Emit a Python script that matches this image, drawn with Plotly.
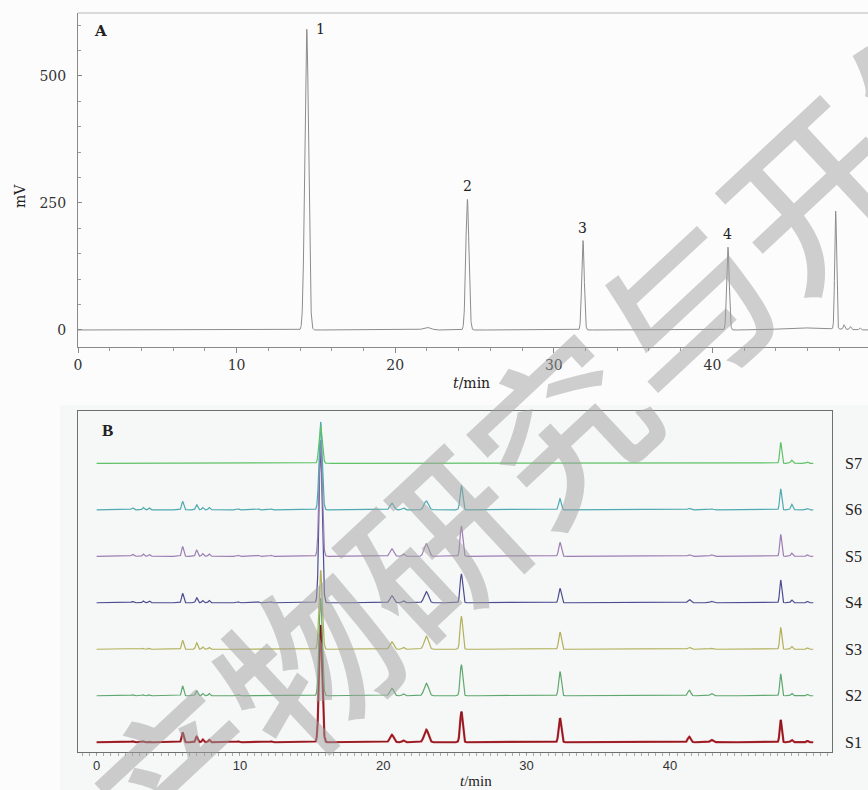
import numpy as np
import plotly.graph_objects as go

W, H = 868, 790

# ---------------- Panel A: reference standard chromatogram ----------------
a_peak_times = [14.42, 22.0, 24.55, 31.84, 40.98, 46.0, 47.77, 48.3, 48.7, 49.3]
a_peak_heights = [592, 5, 257, 176, 163, 4, 232, 9, 6, 4]
a_peak_sigmas = [0.12, 0.25, 0.10, 0.08, 0.08, 1.5, 0.06, 0.05, 0.05, 0.05]
a_labels = ["1", "2", "3", "4"]
a_label_peaks = [0, 2, 3, 4]
a_xticks = [0, 10, 20, 30, 40]
a_yticks = [0, 250, 500]

# ---------------- Panel B: fingerprints S1..S7 ----------------
samples = ["S1", "S2", "S3", "S4", "S5", "S6", "S7"]
b_peak_times = [2.5, 3.25, 3.67, 6.0, 6.98, 7.4, 7.85, 9.9, 11.3, 12.2,
                15.63, 20.6, 21.4, 23.0, 25.45, 32.33, 41.35, 42.9, 47.73, 48.5, 49.6]
b_peak_sigmas = [0.08, 0.06, 0.06, 0.07, 0.07, 0.06, 0.06, 0.06, 0.06, 0.06,
                 0.11, 0.13, 0.08, 0.15, 0.09, 0.09, 0.1, 0.1, 0.07, 0.07, 0.06]
b_heights = {
    "S1": [0.02, 0.02, 0.02, 0.21, 0.12, 0.06, 0.05, 0.02, 0.01, 0.02,
           2.52, 0.16, 0.04, 0.27, 0.66, 0.52, 0.12, 0.05, 0.48, 0.05, 0.03],
    "S2": [0.02, 0.02, 0.02, 0.21, 0.11, 0.05, 0.05, 0.02, 0.01, 0.01,
           2.10, 0.16, 0.04, 0.27, 0.67, 0.52, 0.12, 0.05, 0.47, 0.05, 0.03],
    "S3": [0.00, 0.02, 0.02, 0.19, 0.14, 0.05, 0.04, 0.01, 0.01, 0.01,
           1.70, 0.16, 0.04, 0.28, 0.71, 0.37, 0.04, 0.02, 0.47, 0.06, 0.03],
    "S4": [0.03, 0.04, 0.04, 0.20, 0.11, 0.05, 0.05, 0.02, 0.02, 0.02,
           3.39, 0.15, 0.04, 0.24, 0.62, 0.31, 0.07, 0.03, 0.49, 0.06, 0.03],
    "S5": [0.04, 0.05, 0.04, 0.21, 0.13, 0.06, 0.05, 0.02, 0.02, 0.02,
           2.50, 0.16, 0.05, 0.27, 0.65, 0.30, 0.03, 0.03, 0.47, 0.07, 0.03],
    "S6": [0.04, 0.05, 0.04, 0.18, 0.11, 0.05, 0.05, 0.02, 0.02, 0.02,
           1.89, 0.14, 0.04, 0.19, 0.52, 0.24, 0.03, 0.02, 0.45, 0.12, 0.03],
    "S7": [0.00, 0.00, 0.00, 0.00, 0.00, 0.00, 0.00, 0.00, 0.00, 0.00,
           0.80, 0.00, 0.00, 0.00, 0.00, 0.00, 0.00, 0.00, 0.45, 0.07, 0.03],
}
b_offsets = [0, 1, 2, 3, 4, 5, 6]
b_colors = ["#bf2b34", "#5ea86e", "#b3b05a", "#4c4d90", "#9d7db3", "#4eaab0", "#5fc266"]
b_xticks = [0, 10, 20, 30, 40]

watermark = "天然产物研究与开发"

t = np.arange(0, 50.0001, 0.01)
t_a = np.arange(0, 49.9, 0.01)


def chromatogram(times, heights, sigmas, x):
    y = np.zeros_like(x)
    for tc, h, s in zip(times, heights, sigmas):
        y += h * np.exp(-0.5 * ((x - tc) / s) ** 2)
    return y


fig = go.Figure()

# Panel A trace
ya = chromatogram(a_peak_times, a_peak_heights, a_peak_sigmas, t_a)
fig.add_trace(go.Scatter(x=t_a, y=ya, mode="lines", line=dict(color="#8c8c8c", width=1),
                         xaxis="x", yaxis="y", showlegend=False, hoverinfo="skip"))

# Panel B traces
for name, off, col in zip(samples, b_offsets, b_colors):
    yb = off + chromatogram(b_peak_times, b_heights[name], b_peak_sigmas, t)
    fig.add_trace(go.Scatter(x=t, y=yb, mode="lines",
                             line=dict(color=col, width=2.2 if name == "S1" else 1.2),
                             xaxis="x2", yaxis="y2", showlegend=False, hoverinfo="skip"))
    if name == "S1":
        fig.add_trace(go.Scatter(x=t, y=yb, mode="lines",
                                 line=dict(color="rgba(70,10,12,0.75)", width=0.7),
                                 xaxis="x2", yaxis="y2", showlegend=False, hoverinfo="skip"))

serif = "DejaVu Serif"
annotations = []
# peak labels in A
for i, (lab, pk) in enumerate(zip(a_labels, a_label_peaks)):
    if i == 0:
        annotations.append(dict(x=a_peak_times[pk], y=a_peak_heights[pk], xref="x", yref="y",
                                text=lab, showarrow=False, xanchor="left", yanchor="middle",
                                xshift=7, font=dict(family=serif, size=14, color="#222")))
    else:
        annotations.append(dict(x=a_peak_times[pk], y=a_peak_heights[pk], xref="x", yref="y",
                                text=lab, showarrow=False, xanchor="center", yanchor="bottom",
                                yshift=3, font=dict(family=serif, size=14, color="#222")))

annotations += [
    dict(x=100 / W, y=1 - 31 / H, xref="paper", yref="paper", text="<b>A</b>", showarrow=False,
         xanchor="center", yanchor="middle", font=dict(family=serif, size=15, color="#222")),
    dict(x=20 / W, y=1 - 196 / H, xref="paper", yref="paper", text="mV", showarrow=False,
         textangle=-90, xanchor="center", yanchor="middle", font=dict(family=serif, size=14, color="#222")),
    dict(x=471 / W, y=1 - 383 / H, xref="paper", yref="paper", text="<i>t</i>/min", showarrow=False,
         xanchor="center", yanchor="middle", font=dict(family=serif, size=14, color="#222")),
    dict(x=107 / W, y=1 - 430 / H, xref="paper", yref="paper", text="<b>B</b>", showarrow=False,
         xanchor="center", yanchor="middle", font=dict(family="Liberation Serif", size=17, color="#222")),
    dict(x=476 / W, y=1 - 781 / H, xref="paper", yref="paper", text="<i>t</i>/min", showarrow=False,
         xanchor="center", yanchor="middle", font=dict(family="Liberation Serif", size=15, color="#222")),
]
for name, off in zip(samples, b_offsets):
    annotations.append(dict(x=853 / W, y=off, xref="paper", yref="y2", text=name, showarrow=False,
                            xanchor="center", yanchor="middle",
                            font=dict(family="Liberation Serif", size=16, color="#222")))

# watermark
annotations.append(dict(x=430 / W, y=1 - 540 / H, xref="paper", yref="paper", text=watermark,
                        showarrow=False, textangle=-43, xanchor="center", yanchor="middle",
                        font=dict(family="Noto Sans CJK SC", size=172, color="rgba(160,160,160,0.5)",
                                  weight=500)))

shapes = [
    dict(type="rect", xref="paper", yref="paper", x0=60 / W, x1=1, y0=0, y1=1 - 405 / H,
         fillcolor="#f6f7f7", line=dict(width=0), layer="below"),
    dict(type="line", xref="paper", yref="paper", x0=78 / W, x1=1, y0=1 - 13 / H, y1=1 - 13 / H,
         line=dict(color="#b8b8b8", width=1)),
]

fig.update_layout(
    width=W, height=H, margin=dict(l=0, r=0, t=0, b=0, autoexpand=False),
    paper_bgcolor="#fcfcfc", plot_bgcolor="rgba(0,0,0,0)",
    showlegend=False,
    xaxis=dict(domain=[78 / W, 1.0], range=[0, 49.81], anchor="y", automargin=False,
               showline=True, linecolor="#8a8a8a", linewidth=1, showgrid=False, zeroline=False,
               ticks="outside", ticklen=5, tickcolor="#8a8a8a", tickvals=a_xticks,
               minor=dict(dtick=2, ticks="outside", ticklen=3, tickcolor="#9a9a9a"),
               tickfont=dict(family=serif, size=14, color="#333")),
    yaxis=dict(domain=[1 - 347 / H, 1 - 13 / H], range=[-33.5, 624], anchor="x", automargin=False,
               showline=True, linecolor="#8a8a8a", linewidth=1, showgrid=False, zeroline=False,
               ticks="inside", ticklen=4, tickcolor="#8a8a8a", tickvals=a_yticks,
               minor=dict(dtick=50, ticks="inside", ticklen=3, tickcolor="#9a9a9a"),
               ticklabelstandoff=8,
               tickfont=dict(family=serif, size=14, color="#333")),
    xaxis2=dict(domain=[78.3 / W, 831.7 / W], range=[-1.28, 51.29], anchor="y2", automargin=False,
                showline=True, mirror=True, linecolor="#6f6f6f", linewidth=1, showgrid=False,
                zeroline=False, ticks="outside", ticklen=1, tickcolor="#888", tickvals=b_xticks,
                minor=dict(dtick=0.5, ticks="outside", ticklen=3, tickcolor="#aaaaaa"),
                tickfont=dict(family="Liberation Sans", size=13, color="#333")),
    yaxis2=dict(domain=[1 - 752 / H, 1 - 411 / H], range=[-0.21, 7.125], anchor="x2", automargin=False,
                showline=True, mirror=True, linecolor="#6f6f6f", linewidth=1, showgrid=False,
                zeroline=False, showticklabels=False, ticks=""),
    annotations=annotations,
    shapes=shapes,
)

fig.write_html("out.html", config={"displayModeBar": False},
               post_script="document.body.style.margin='0';document.body.style.overflow='hidden';")
